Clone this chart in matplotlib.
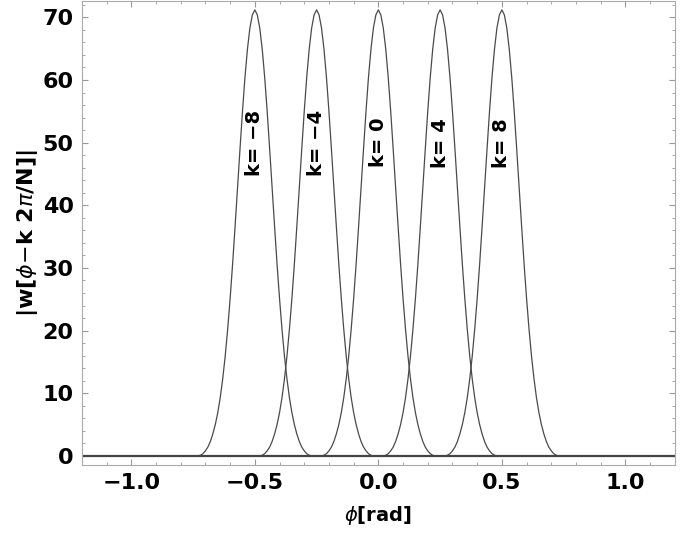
import numpy as np
import matplotlib.pyplot as plt
from matplotlib.ticker import MultipleLocator

# window peaks |w[phi - k 2pi/N]|
k_values = [-8, -4, 0, 4, 8]
centers = [-0.5, -0.25, 0.0, 0.25, 0.5]

# one-sided profile of a peak: offset from centre (rad) -> amplitude
offsets = [0.00, 0.01, 0.02, 0.03, 0.04, 0.05, 0.06, 0.07, 0.08, 0.09, 0.10, 0.11,
           0.12, 0.13, 0.14, 0.15, 0.16, 0.17, 0.18, 0.19, 0.20, 0.21, 0.22, 0.23]
amplitude = [71.2, 70.4, 68.3, 64.9, 60.4, 55.0, 49.0, 42.8, 36.6, 30.6, 25.1, 20.2,
             15.9, 12.3, 9.3, 6.9, 5.0, 3.5, 2.3, 1.4, 0.8, 0.35, 0.1, 0.0]

label_y = 50

plt.rcParams['font.family'] = ['DejaVu Sans']
plt.rcParams['mathtext.fontset'] = 'dejavusans'

fig = plt.figure(figsize=(7, 5.4), dpi=100)
ax = fig.add_axes([0.117, 0.139, 0.847, 0.859])

off = np.array(offsets)
amp = np.array(amplitude)
prof_x = np.concatenate([-off[::-1], off[1:]])
prof_y = np.concatenate([amp[::-1], amp[1:]])

for k, c in zip(k_values, centers):
    ax.plot(c + prof_x, prof_y, color='#4a4a4a', lw=0.9)
    ax.text(c, label_y, 'k= %s' % str(k).replace('-', '\u2212'), rotation=90,
            ha='center', va='center', fontsize=14, fontweight='bold')

# zero level of all curves (drawn on top of the axis)
ax.axhline(0, color='#444444', lw=1.6)

ax.set_xlim(-1.2, 1.2)
ax.set_ylim(-1.45, 72.6)
ax.xaxis.set_major_locator(MultipleLocator(0.5))
ax.xaxis.set_minor_locator(MultipleLocator(0.1))
ax.yaxis.set_major_locator(MultipleLocator(10))
ax.yaxis.set_minor_locator(MultipleLocator(2))

for s in ax.spines.values():
    s.set_color('#aaaaaa')
    s.set_linewidth(0.8)
ax.tick_params(which='both', direction='in', top=True, right=True, color='#999999')
ax.tick_params(which='major', length=4, width=0.8, labelsize=16, pad=6)
ax.tick_params(which='minor', length=2, width=0.6)
for lab in ax.get_xticklabels() + ax.get_yticklabels():
    lab.set_fontweight('bold')

ax.set_xlabel(r'$\phi$[rad]', fontsize=14, fontweight='bold', labelpad=8)
ax.set_ylabel(r'|w[$\phi$$-$k 2$\pi$/N]|', fontsize=16, fontweight='bold', labelpad=2)

fig.savefig('out.png', dpi=100)
